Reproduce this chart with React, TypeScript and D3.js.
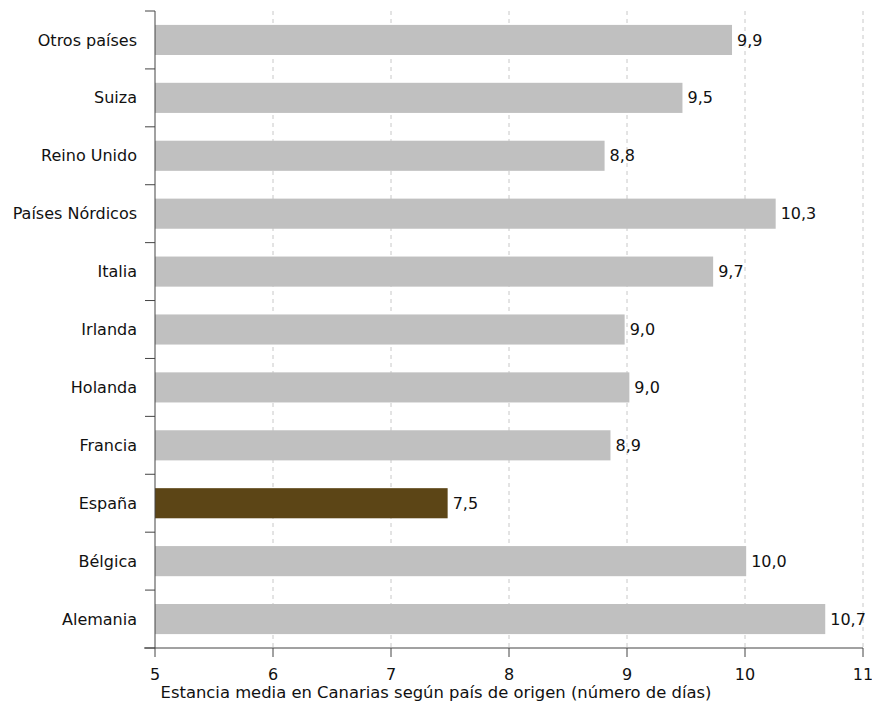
import React from "react";
import * as d3 from "d3";

const categories = [
  "Otros países",
  "Suiza",
  "Reino Unido",
  "Países Nórdicos",
  "Italia",
  "Irlanda",
  "Holanda",
  "Francia",
  "España",
  "Bélgica",
  "Alemania",
];
const values = [9.89, 9.47, 8.81, 10.26, 9.73, 8.98, 9.02, 8.86, 7.48, 10.01, 10.68];
const highlight = ["España"];
const xTicks = [5, 6, 7, 8, 9, 10, 11];
const axisTitle = "Estancia media en Canarias según país de origen (número de días)";

const W = 872;
const H = 703;
const left = 155;
const right = 863;
const top = 11;
const bottom = 648;
const FONT = "'DejaVu Sans', Verdana, sans-serif";

export default function App() {
  const x = d3.scaleLinear().domain([5, 11]).range([left, right]);
  const y = d3
    .scaleBand<string>()
    .domain(categories)
    .range([top, bottom])
    .paddingInner(0.48)
    .paddingOuter(0.24);
  const step = (bottom - top) / categories.length;
  const fmt = (v: number) => v.toFixed(1).replace(".", ",");

  return (
    <svg
      width={W}
      height={H}
      style={{ position: "absolute", left: 0, top: 0, background: "#fff" }}
      fontFamily={FONT}
    >
      {/* grid */}
      {xTicks.slice(1).map((t) => (
        <line
          key={"g" + t}
          x1={x(t)}
          x2={x(t)}
          y1={top}
          y2={bottom}
          stroke="#c8c8c8"
          strokeWidth={1}
          strokeDasharray="4,4"
        />
      ))}
      {/* bars */}
      {categories.map((c, i) => (
        <g key={c}>
          <rect
            x={x(5)}
            y={y(c)!}
            width={x(values[i]) - x(5)}
            height={y.bandwidth()}
            fill={highlight.includes(c) ? "#5c4516" : "#c0c0c0"}
          />
          <text
            x={x(values[i]) + 5}
            y={y(c)! + y.bandwidth() / 2}
            dy="0.35em"
            fontSize={16}
            fill="#111"
          >
            {fmt(values[i])}
          </text>
          <text
            x={left - 18}
            y={y(c)! + y.bandwidth() / 2}
            dy="0.35em"
            fontSize={16}
            textAnchor="end"
            fill="#111"
          >
            {c}
          </text>
        </g>
      ))}
      {/* y axis */}
      <line x1={left} x2={left} y1={top} y2={bottom} stroke="#444" />
      {d3.range(categories.length + 1).map((k) => (
        <line
          key={"yt" + k}
          x1={left - 10}
          x2={left}
          y1={top + k * step}
          y2={top + k * step}
          stroke="#444"
        />
      ))}
      {/* x axis */}
      <line x1={left - 11} x2={right} y1={bottom} y2={bottom} stroke="#444" />
      {xTicks.map((t) => (
        <g key={"xt" + t}>
          <line x1={x(t)} x2={x(t)} y1={bottom} y2={bottom + 9} stroke="#444" />
          <text x={x(t)} y={680} fontSize={16} textAnchor="middle" fill="#111">
            {t}
          </text>
        </g>
      ))}
      <text x={W / 2} y={698} fontSize={16.4} textAnchor="middle" fill="#111">
        {axisTitle}
      </text>
    </svg>
  );
}
